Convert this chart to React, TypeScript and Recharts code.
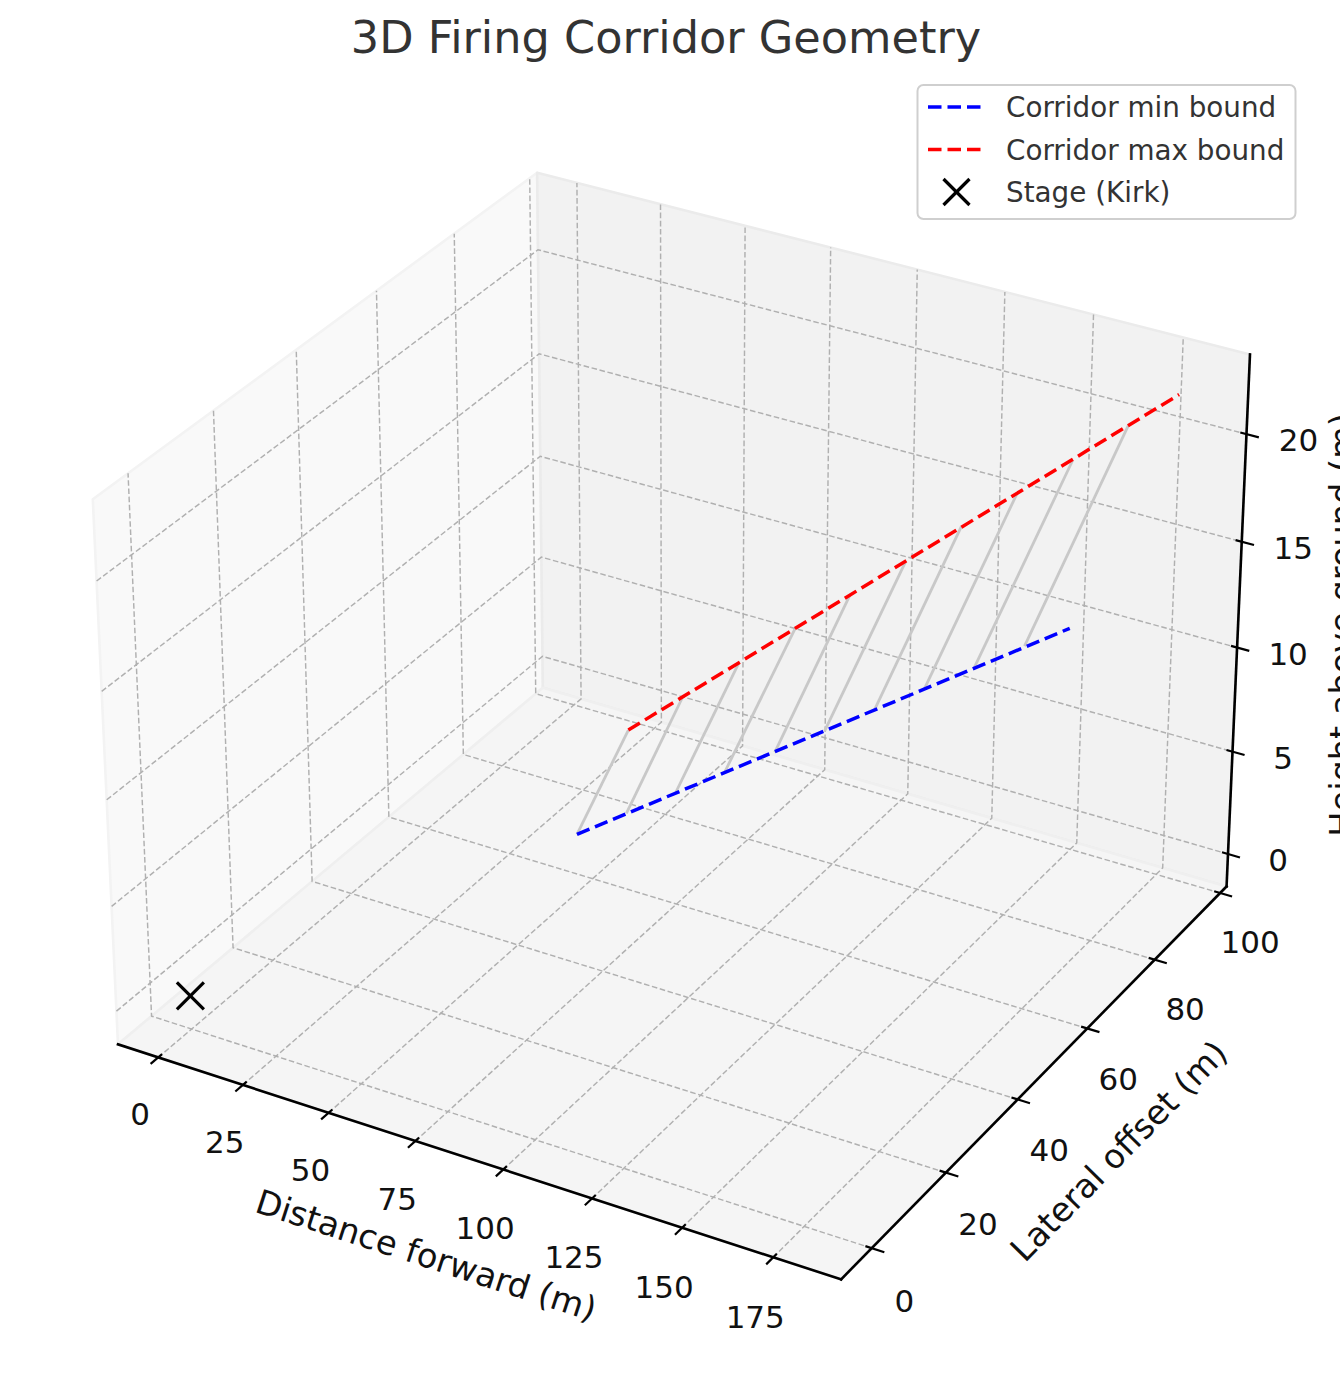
import React from 'react';
import { ScatterChart, Scatter, XAxis, YAxis } from 'recharts';

const W = 1340;
const H = 1380;

// 3D box (pane) limits
const X_LIM = [-12.0, 193.4];
const Y_LIM = [-8.07, 102.0];
const Z_LIM = [-1.6, 23.65];

// tick values
const X_TICKS = [0, 25, 50, 75, 100, 125, 150, 175];
const Y_TICKS = [0, 20, 40, 60, 80, 100];
const Z_TICKS = [0, 5, 10, 15, 20];

// corridor bounds (start / end)
const CORRIDOR_X = [80, 180];
const MIN_Y = [29.1, 65.5];
const MIN_Z = [7.0, 15.75];
const MAX_Y = [42.6, 95.8];
const MAX_Z = [9.8, 22.1];

// connecting ribs between min and max bound
const RIB_X = [80, 90.1, 100.2, 110.3, 120.4, 130.5, 140.6, 150.7, 160.8, 170.9];
const RIB_MIN_Y = [29.1, 32.8, 36.5, 40.1, 43.8, 47.5, 51.2, 54.9, 58.5, 62.2];
const RIB_MIN_Z = [7.0, 7.9, 8.8, 9.7, 10.5, 11.4, 12.3, 13.2, 14.1, 15.0];
const RIB_MAX_Y = [42.6, 47.9, 53.3, 58.7, 64.1, 69.4, 74.8, 80.2, 85.5, 90.9];
const RIB_MAX_Z = [9.8, 11.1, 12.3, 13.5, 14.8, 16.0, 17.3, 18.5, 19.7, 21.0];

// stage
const STAGE_X = [0];
const STAGE_Y = [0];
const STAGE_Z = [0];

const TITLE = '3D Firing Corridor Geometry';
const X_LABEL = 'Distance forward (m)';
const Y_LABEL = 'Lateral offset (m)';
const Z_LABEL = 'Height above ground (m)';
const LEGEND_LABELS = ['Corridor min bound', 'Corridor max bound', 'Stage (Kirk)'];

const FONT = '"DejaVu Sans", "Liberation Sans", sans-serif';

// ---- 3D projection (elev 30, azim -60, perspective) ----
const ELEV = 30;
const AZIM = -60;
const DIST = 10;
const BOX = [8 / 7, 8 / 7, 6 / 7];
const SCALE = 7251;
const CX = 682.1;
const CY = 700.5;

const er = (ELEV * Math.PI) / 180;
const ar = (AZIM * Math.PI) / 180;
const WV = [Math.cos(er) * Math.cos(ar), Math.cos(er) * Math.sin(ar), Math.sin(er)];
const UN = Math.hypot(WV[0], WV[1]);
const UV = [-WV[1] / UN, WV[0] / UN, 0];
const VV = [
  WV[1] * UV[2] - WV[2] * UV[1],
  WV[2] * UV[0] - WV[0] * UV[2],
  WV[0] * UV[1] - WV[1] * UV[0],
];

type P3 = [number, number, number];

function project(p: P3, label?: string) {
  const d = [
    ((p[0] - X_LIM[0]) / (X_LIM[1] - X_LIM[0]) - 0.5) * BOX[0],
    ((p[1] - Y_LIM[0]) / (Y_LIM[1] - Y_LIM[0]) - 0.5) * BOX[1],
    ((p[2] - Z_LIM[0]) / (Z_LIM[1] - Z_LIM[0]) - 0.5) * BOX[2],
  ];
  const X = UV[0] * d[0] + UV[1] * d[1] + UV[2] * d[2];
  const Y = VV[0] * d[0] + VV[1] * d[1] + VV[2] * d[2];
  const Z = WV[0] * d[0] + WV[1] * d[1] + WV[2] * d[2];
  const den = DIST - Z;
  return { sx: CX + (SCALE * X) / den, sy: CY - (SCALE * Y) / den, label: label ?? '' };
}

const NoDot = () => <g />;

function pathOf(points: any[], closed: boolean) {
  return (
    points.map((p: any, i: number) => `${i ? 'L' : 'M'}${p.x},${p.y}`).join(' ') + (closed ? ' Z' : '')
  );
}

function poly(key: string, pts: P3[], style: any, closed = false) {
  const data = pts.map((p) => project(p));
  return (
    <Scatter
      key={key}
      data={data}
      isAnimationActive={false}
      shape={NoDot}
      lineType="joint"
      line={(lp: any) => <path d={pathOf(lp.points, closed)} {...style} />}
    />
  );
}

function textShape(size: number, color: string, rot = 0, anchor = 'middle', shift = 0.36, nx = 0, ny = 0) {
  return (props: any) => {
    const cx = props.cx + nx;
    const cy = props.cy + ny;
    return (
      <text
        x={cx}
        y={cy + shift * size}
        textAnchor={anchor}
        fontSize={size}
        fill={color}
        fontFamily={FONT}
        transform={rot ? `rotate(${rot} ${cx} ${cy})` : undefined}
      >
        {props.payload.label}
      </text>
    );
  };
}

function labels(key: string, items: { p: P3; label: string }[], shape: any) {
  return (
    <Scatter
      key={key}
      data={items.map((it) => project(it.p, it.label))}
      isAnimationActive={false}
      shape={shape}
    />
  );
}

const StageMark = (props: any) => {
  const { cx, cy } = props;
  const r = 13.5;
  return (
    <g stroke="#000" strokeWidth={3.2}>
      <line x1={cx - r} y1={cy - r} x2={cx + r} y2={cy + r} />
      <line x1={cx - r} y1={cy + r} x2={cx + r} y2={cy - r} />
    </g>
  );
};

export default function App() {
  const [x0, x1] = X_LIM;
  const [y0, y1] = Y_LIM;
  const [z0, z1] = Z_LIM;
  const dx = (x1 - x0) / 12;
  const dy = (y1 - y0) / 12;

  const els: any[] = [];

  // panes
  els.push(
    poly('pane-x', [[x0, y0, z0], [x0, y1, z0], [x0, y1, z1], [x0, y0, z1]], {
      fill: '#f9f9f9', stroke: '#f3f3f3', strokeWidth: 2.6, strokeLinejoin: 'round',
    }, true)
  );
  els.push(
    poly('pane-y', [[x0, y1, z0], [x1, y1, z0], [x1, y1, z1], [x0, y1, z1]], {
      fill: '#f2f2f2', stroke: '#ebebeb', strokeWidth: 2.6, strokeLinejoin: 'round',
    }, true)
  );
  els.push(
    poly('pane-z', [[x0, y0, z0], [x1, y0, z0], [x1, y1, z0], [x0, y1, z0]], {
      fill: '#f5f5f5', stroke: '#efefef', strokeWidth: 2.6, strokeLinejoin: 'round',
    }, true)
  );

  const grid = { fill: 'none', stroke: '#b0b0b0', strokeWidth: 1.45, strokeDasharray: '5.6 2.6' };
  X_TICKS.forEach((t, i) => els.push(poly(`gx${i}`, [[t, y0, z0], [t, y1, z0], [t, y1, z1]], grid)));
  Y_TICKS.forEach((t, i) => els.push(poly(`gy${i}`, [[x1, t, z0], [x0, t, z0], [x0, t, z1]], grid)));
  Z_TICKS.forEach((t, i) => els.push(poly(`gz${i}`, [[x0, y0, t], [x0, y1, t], [x1, y1, t]], grid)));

  // axis lines
  const axisStyle = { fill: 'none', stroke: '#000', strokeWidth: 2.6, strokeLinecap: 'square' };
  els.push(poly('ax-x', [[x0, y0, z0], [x1, y0, z0]], axisStyle));
  els.push(poly('ax-y', [[x1, y0, z0], [x1, y1, z0]], axisStyle));
  els.push(poly('ax-z', [[x1, y1, z0], [x1, y1, z1]], axisStyle));

  // tick marks
  const tickStyle = { fill: 'none', stroke: '#000', strokeWidth: 2.2 };
  X_TICKS.forEach((t, i) => els.push(poly(`tx${i}`, [[t, y0 - 0.2 * dy, z0], [t, y0 + 0.1 * dy, z0]], tickStyle)));
  Y_TICKS.forEach((t, i) => els.push(poly(`ty${i}`, [[x1 + 0.2 * dx, t, z0], [x1 - 0.1 * dx, t, z0]], tickStyle)));
  Z_TICKS.forEach((t, i) => els.push(poly(`tz${i}`, [[x1 + 0.2 * dx, y1, t], [x1 - 0.1 * dx, y1, t]], tickStyle)));

  // tick labels
  const TICK_FS = 31;
  els.push(labels('lx', X_TICKS.map((t) => ({ p: [t, y0 - 5.9, z0 - 1.6] as P3, label: String(t) })), textShape(TICK_FS, '#111', 0, 'middle', 0.4, 5, 1)));
  els.push(labels('ly', Y_TICKS.map((t) => ({ p: [x1 + 9.3, t, z0 - 1.74] as P3, label: String(t) })), textShape(TICK_FS, '#111', 0, 'middle', 0.4, -1, 3)));
  els.push(labels('lz', Z_TICKS.map((t) => ({ p: [x1 + 12.2, y1 + 2.63, t] as P3, label: String(t) })), textShape(TICK_FS, '#111', 0, 'middle', 0.4, -1, 1)));

  // axis labels
  const LAB_FS = 33.6;
  const xa = project([x0, y0, z0]);
  const xb = project([x1, y0, z0]);
  const ya = project([x1, y0, z0]);
  const yb = project([x1, y1, z0]);
  const angX = (Math.atan2(xb.sy - xa.sy, xb.sx - xa.sx) * 180) / Math.PI;
  const angY = (Math.atan2(yb.sy - ya.sy, yb.sx - ya.sx) * 180) / Math.PI;
  els.push(labels('axl-x', [{ p: [(x0 + x1) / 2, y0 - 13.0, z0 - 2.35], label: X_LABEL }], textShape(LAB_FS, '#111', angX, 'middle', 0.3, 7, 0)));
  els.push(labels('axl-y', [{ p: [x1 + 22.6, (y0 + y1) / 2, z0 - 2.49], label: Y_LABEL }], textShape(LAB_FS, '#111', angY, 'middle', 0.3, -2, 1)));
  els.push(labels('axl-z', [{ p: [x1 + 23.9, y1 + 7.75, (z0 + z1) / 2], label: Z_LABEL }], textShape(LAB_FS, '#111', -90, 'middle', 0, 5, 0)));

  // ribs
  const ribStyle = { fill: 'none', stroke: '#c8c8c8', strokeWidth: 2.8 };
  RIB_X.forEach((x, i) =>
    els.push(poly(`rib${i}`, [[x, RIB_MIN_Y[i], RIB_MIN_Z[i]], [x, RIB_MAX_Y[i], RIB_MAX_Z[i]]], ribStyle))
  );

  // corridor bounds
  const minPts: P3[] = CORRIDOR_X.map((x, i) => [x, MIN_Y[i], MIN_Z[i]]);
  const maxPts: P3[] = CORRIDOR_X.map((x, i) => [x, MAX_Y[i], MAX_Z[i]]);
  els.push(poly('min', minPts, { fill: 'none', stroke: '#0000ff', strokeWidth: 3.5, strokeDasharray: '13.5 6' }));
  els.push(poly('max', maxPts, { fill: 'none', stroke: '#ff0000', strokeWidth: 3.5, strokeDasharray: '13.5 6' }));

  // stage
  els.push(
    <Scatter
      key="stage"
      data={STAGE_X.map((x, i) => project([x, STAGE_Y[i], STAGE_Z[i]]))}
      isAnimationActive={false}
      shape={StageMark}
    />
  );

  return (
    <div style={{ position: 'absolute', left: 0, top: 0, width: W, height: H, background: '#fff', overflow: 'hidden' }}>
      <ScatterChart width={W} height={H} margin={{ top: 0, right: 0, bottom: 0, left: 0 }}>
        <XAxis type="number" dataKey="sx" domain={[0, W]} hide allowDataOverflow />
        <YAxis type="number" dataKey="sy" domain={[0, H]} reversed hide allowDataOverflow />
        {els}
      </ScatterChart>
      <svg
        width={W}
        height={H}
        style={{ position: 'absolute', left: 0, top: 0, pointerEvents: 'none' }}
      >
        <text x={666} y={53.3} textAnchor="middle" fontSize={44.6} fill="#333" fontFamily={FONT}>
          {TITLE}
        </text>
        <rect x={917.5} y={85} width={378} height={134} rx={6} ry={6} fill="#fff" fillOpacity={0.85} stroke="#cfcfcf" strokeWidth={2} />
        <line x1={928} y1={107} x2={984} y2={107} stroke="#0000ff" strokeWidth={3.5} strokeDasharray="13.5 6" />
        <line x1={928} y1={149.5} x2={984} y2={149.5} stroke="#ff0000" strokeWidth={3.5} strokeDasharray="13.5 6" />
        <g stroke="#000" strokeWidth={3.2}>
          <line x1={943.5} y1={179} x2={969.5} y2={205} />
          <line x1={943.5} y1={205} x2={969.5} y2={179} />
        </g>
        {LEGEND_LABELS.map((l, i) => (
          <text key={l} x={1006} y={117.3 + i * 42.4} fontSize={27.8} fill="#333" fontFamily={FONT}>
            {l}
          </text>
        ))}
      </svg>
    </div>
  );
}
